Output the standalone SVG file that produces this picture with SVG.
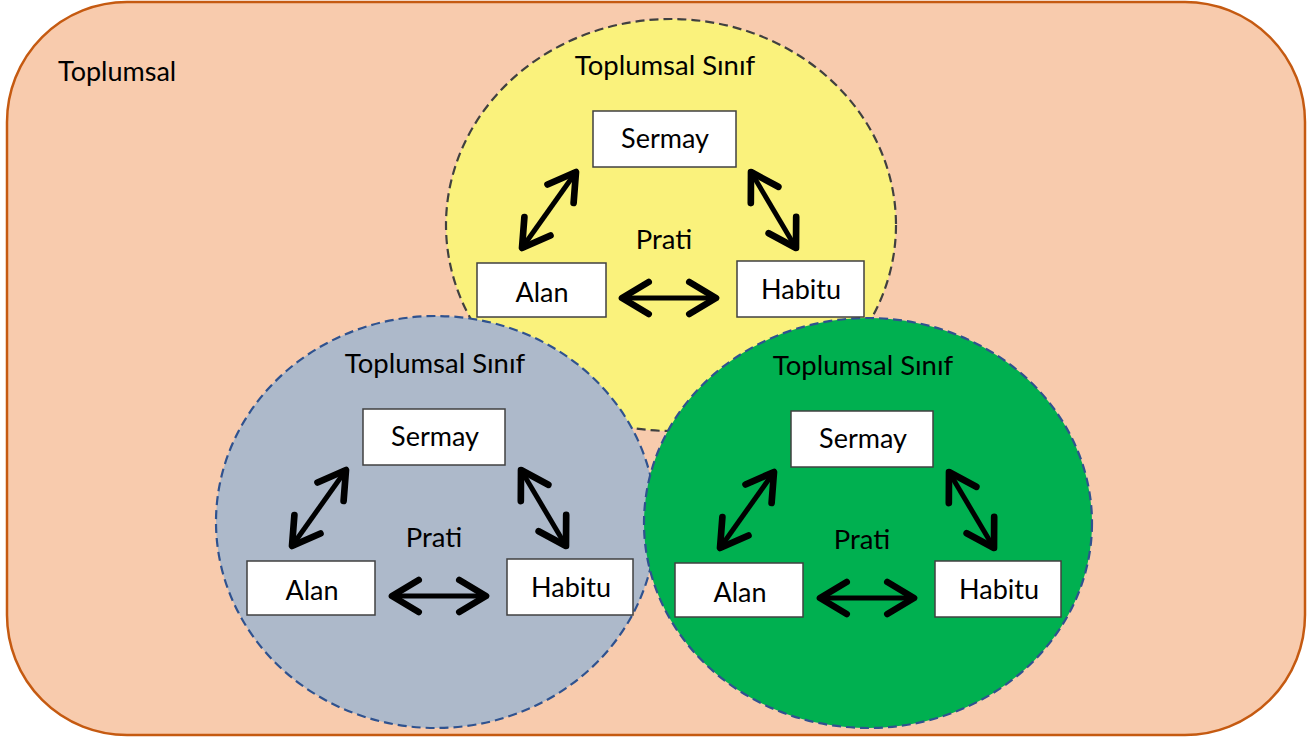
<svg xmlns="http://www.w3.org/2000/svg" width="1310" height="738" viewBox="0 0 1310 738">
<defs>
<style>
.lbl{font-family:Lato,"Liberation Sans",sans-serif;font-size:27.5px;fill:#000;text-anchor:middle}
.corner{font-family:Lato,"Liberation Sans",sans-serif;font-size:27px;fill:#000}
.box{fill:#fff;stroke:#404040;stroke-width:1.5}
.box-t{font-family:Lato,"Liberation Sans",sans-serif;font-size:27px;fill:#000;text-anchor:middle}
.circ{stroke-width:2.2;stroke-dasharray:9 5}
.arr{stroke:#000;stroke-width:5;fill:none;marker-start:url(#ah);marker-end:url(#ah)}
</style>
<marker id="ah" markerUnits="userSpaceOnUse" orient="auto-start-reverse" refX="0" refY="0" markerWidth="40" markerHeight="40" viewBox="-25 -15 30 30" overflow="visible">
<path d="M-20,-12 L0,0 L-20,12" fill="none" stroke="#000" stroke-width="5" stroke-linecap="round" stroke-linejoin="round"/>
</marker>
</defs>
<g id="society">
<rect x="7" y="2" width="1298" height="733" rx="120" ry="120" fill="#F8CBAD" stroke="#C55A11" stroke-width="2.5"/>
<text class="corner" x="58" y="81">Toplumsal</text>
</g>
<g id="class-yellow"><ellipse class="circ" cx="671" cy="225" rx="225" ry="206" fill="#FAF27C" stroke="#404040"/></g>
<g id="class-blue"><ellipse class="circ" cx="436" cy="522" rx="220" ry="206" fill="#ADB9CA" stroke="#2F528F"/></g>
<g id="class-green"><ellipse class="circ" cx="868" cy="523" rx="224" ry="205" fill="#00B050" stroke="#2F528F"/></g>

<g id="labels">
<text class="lbl" x="665" y="75">Toplumsal Sınıf</text>
<text class="lbl" x="664" y="249">Prati</text>
<text class="lbl" x="435" y="373">Toplumsal Sınıf</text>
<text class="lbl" x="434" y="547">Prati</text>
<text class="lbl" x="863" y="375">Toplumsal Sınıf</text>
<text class="lbl" x="862" y="549">Prati</text>
</g>

<g id="y-sermay"><rect class="box" x="593" y="111" width="143" height="56"/><text class="box-t" x="665" y="148">Sermay</text></g>
<g id="y-alan"><rect class="box" x="477" y="263" width="129" height="54"/><text class="box-t" x="542" y="302">Alan</text></g>
<g id="y-habitu"><rect class="box" x="737" y="261" width="127" height="56"/><text class="box-t" x="801" y="299">Habitu</text></g>

<g id="b-sermay"><rect class="box" x="363" y="409" width="142" height="56"/><text class="box-t" x="435" y="446">Sermay</text></g>
<g id="b-alan"><rect class="box" x="247" y="561" width="128" height="54"/><text class="box-t" x="312" y="600">Alan</text></g>
<g id="b-habitu"><rect class="box" x="507" y="559" width="126" height="56"/><text class="box-t" x="571" y="597">Habitu</text></g>

<g id="g-sermay"><rect class="box" x="791" y="411" width="142" height="56"/><text class="box-t" x="863" y="448">Sermay</text></g>
<g id="g-alan"><rect class="box" x="675" y="563" width="128" height="54"/><text class="box-t" x="740" y="602">Alan</text></g>
<g id="g-habitu"><rect class="box" x="935" y="561" width="126" height="56"/><text class="box-t" x="999" y="599">Habitu</text></g>

<g id="connectors">
<line class="arr" x1="576" y1="172" x2="522" y2="248"/>
<line class="arr" x1="751" y1="172" x2="796" y2="248"/>
<line class="arr" x1="622" y1="298" x2="716" y2="298"/>
<line class="arr" x1="346" y1="470" x2="292" y2="546"/>
<line class="arr" x1="521" y1="470" x2="566" y2="546"/>
<line class="arr" x1="392" y1="596" x2="486" y2="596"/>
<line class="arr" x1="774" y1="472" x2="720" y2="548"/>
<line class="arr" x1="949" y1="472" x2="994" y2="548"/>
<line class="arr" x1="820" y1="598" x2="914" y2="598"/>
</g>
</svg>
